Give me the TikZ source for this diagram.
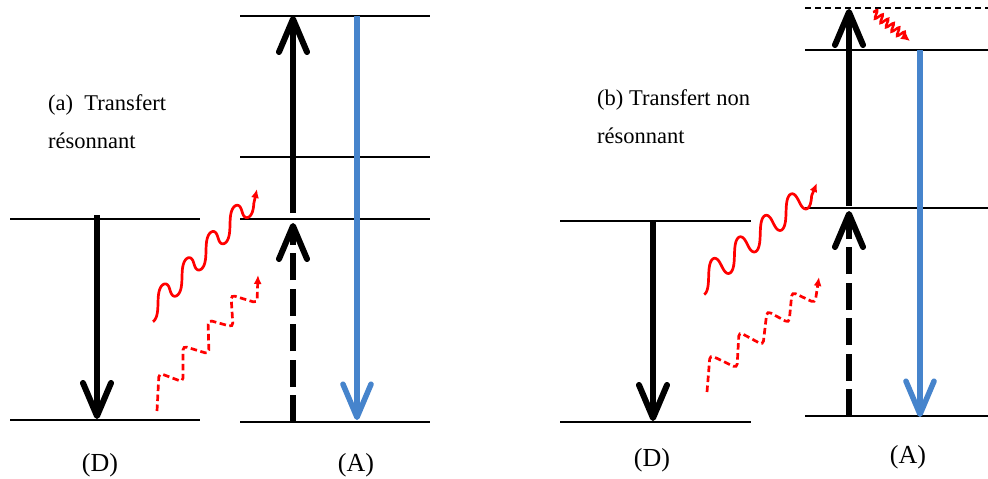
\documentclass[tikz,border=0pt]{standalone}
\usepackage{fontspec}
\setmainfont{Liberation Serif}
\usetikzlibrary{arrows.meta,decorations.pathmorphing}
\definecolor{ablue}{RGB}{70,132,204}
\definecolor{wred}{RGB}{255,0,0}
\begin{document}
\begin{tikzpicture}[x=1pt,y=-1pt,
  level/.style={line width=1.7pt},
  leveldash/.style={level, line width=1.9pt, dash pattern=on 6pt off 4pt},
  trans/.style={line width=6pt, -{Straight Barb[length=33pt,width=28pt,round]}},
  transdash/.style={trans, dash pattern=on 27pt off 8.5pt},
  emit/.style={trans, draw=ablue, line width=5.5pt},
  photon/.style={draw=wred, line width=2.7pt, -{Latex[length=9pt,width=8pt]}},
  photondash/.style={photon, dash pattern=on 6.5pt off 3.5pt, rounded corners=4pt},
  lbl/.style={font=\fontsize{22.5}{27}\selectfont, anchor=base west, inner sep=0pt},
  sp/.style={font=\fontsize{26}{30}\selectfont, anchor=base, inner sep=0pt}]
\fill[white] (0,0) rectangle (988,479);
\useasboundingbox (0,0) rectangle (988,479);

% ---------- panel (a) ----------
% levels of D
\coordinate (aD1l) at (10,219);  \coordinate (aD1r) at (200,219);
\coordinate (aD0l) at (10,420);  \coordinate (aD0r) at (200,420);
\draw[level] (aD1l) -- (aD1r);
\draw[level] (aD0l) -- (aD0r);
% levels of A
\coordinate (aA3l) at (240,16);  \coordinate (aA3r) at (430,16);
\coordinate (aA2l) at (240,157); \coordinate (aA2r) at (430,157);
\coordinate (aA1l) at (240,219); \coordinate (aA1r) at (430,219);
\coordinate (aA0l) at (240,422); \coordinate (aA0r) at (430,422);
\draw[level] (aA3l) -- (aA3r);
\draw[level] (aA2l) -- (aA2r);
\draw[level] (aA1l) -- (aA1r);
\draw[level] (aA0l) -- (aA0r);
% transitions
\coordinate (aDs) at (97,215);  \coordinate (aDe) at (97,419);
\draw[trans] (aDs) -- (aDe);
\coordinate (aUs) at (293,213); \coordinate (aUe) at (293,16);
\draw[trans] (aUs) -- (aUe);
\coordinate (aVs) at (293,422); \coordinate (aVe) at (293,223);
\draw[transdash] (aVs) -- (aVe);
\coordinate (aBs) at (357,16);  \coordinate (aBe) at (357,420);
\draw[emit] (aBs) -- (aBe);
% photons
\coordinate (aPe) at (257,189);
\draw[photon] plot[domain=0:4.2, samples=200]
  ({153 + 24*\x + 1*(cos(360*\x)-1) + 1.2*sin(720*\x)},
   {309.7 - 26.2*\x + 12*cos(360*\x)}) -- (aPe);
\coordinate (aQs) at (157,411); \coordinate (aQe) at (258,275);
\draw[photondash] (aQs) -- (159,373) -- (183,382) -- (183,346) -- (209,354)
  -- (208,320) -- (233,327) -- (231,295) -- (257,303) -- (aQe);
% texts
\node[lbl] (ta1) at (48,110) {(a)\ \ Transfert};
\node[lbl] (ta2) at (48,148) {résonnant};
\node[sp] (Da) at (100,471) {(D)};
\node[sp] (Aa) at (356,471) {(A)};

% ---------- panel (b) ----------
\coordinate (bD1l) at (560,221); \coordinate (bD1r) at (751,221);
\coordinate (bD0l) at (560,422); \coordinate (bD0r) at (751,422);
\draw[level] (bD1l) -- (bD1r);
\draw[level] (bD0l) -- (bD0r);
\coordinate (bVl) at (805,8);    \coordinate (bVr) at (988,8);
\coordinate (bA2l) at (805,50);  \coordinate (bA2r) at (988,50);
\coordinate (bA1l) at (805,208); \coordinate (bA1r) at (988,208);
\coordinate (bA0l) at (805,416); \coordinate (bA0r) at (988,416);
\draw[leveldash] (bVl) -- (bVr);
\draw[level] (bA2l) -- (bA2r);
\draw[level] (bA1l) -- (bA1r);
\draw[level] (bA0l) -- (bA0r);
\coordinate (bDs) at (653,221); \coordinate (bDe) at (653,421);
\draw[trans] (bDs) -- (bDe);
\coordinate (bUs) at (849,206); \coordinate (bUe) at (849,9);
\draw[trans] (bUs) -- (bUe);
\coordinate (bWs) at (849,416); \coordinate (bWe) at (849,211);
\draw[transdash] (bWs) -- (bWe);
\coordinate (bBs) at (920,50);  \coordinate (bBe) at (920,417);
\draw[emit] (bBs) -- (bBe);
% photons
\coordinate (bPe) at (817,183);
\draw[photon] plot[domain=0:4.2, samples=200]
  ({704.2 + 25.8*\x + 2*(cos(360*\x)-1) + 0.8*sin(720*\x)},
   {282 - 21.5*\x + 12.5*cos(360*\x)}) -- (bPe);
\coordinate (bQs) at (707,392); \coordinate (bQe) at (819,277);
\draw[photondash] (bQs) -- (710,355) -- (737,368) -- (739,332) -- (763,345)
  -- (767,311) -- (789,323) -- (792,292) -- (815,303) -- (bQe);
% relaxation squiggle
\coordinate (bRs) at (873,12); \coordinate (bRe) at (910,41);
\draw[draw=wred, line width=2.5pt, decorate,
  decoration={snake, amplitude=4pt, segment length=7pt, post length=7pt},
  -{Latex[length=9pt,width=9pt]}] (bRs) -- (bRe);
% texts
\node[lbl] (tb1) at (597,105) {(b) Transfert non};
\node[lbl] (tb2) at (597,143) {résonnant};
\node[sp] (Db) at (652,466) {(D)};
\node[sp] (Ab) at (908,463) {(A)};
\end{tikzpicture}
\end{document}
